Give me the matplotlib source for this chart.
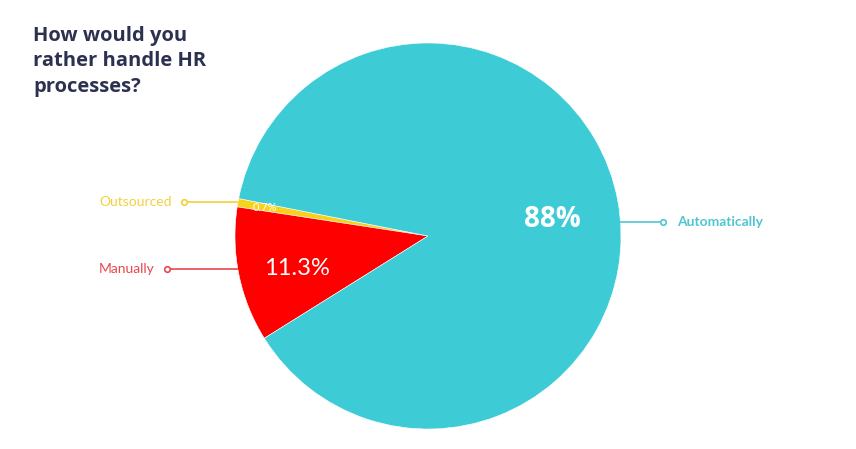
import numpy as np
import matplotlib
matplotlib.use("Agg")
import matplotlib.pyplot as plt

categories = ["Outsourced", "Manually", "Automatically"]
values = [0.7, 11.3, 88.0]
pct_labels = ["0.7%", "11.3%", "88%"]
title = "How would you\nrather handle HR\nprocesses?"

colors = ["#f9d11b", "#ff0000", "#3dcbd5"]
label_colors = ["#f2d13c", "#e8474f", "#4fc6cf"]

plt.rcParams["font.family"] = ["Lato", "DejaVu Sans"]

fig = plt.figure(figsize=(8.56, 4.49), dpi=100)
ax = fig.add_axes([0, 0, 1, 1])

cx, cy, r = 428, 449 - 236, 193
wedges, _ = ax.pie(values, colors=colors, startangle=168.8, counterclock=True,
                   center=(cx, cy), radius=r,
                   wedgeprops=dict(edgecolor="white", linewidth=0.4))
ax.set_xlim(0, 856)
ax.set_ylim(0, 449)
ax.set_aspect("equal")
ax.axis("off")

# percentage labels
pct_dist = [0.86, 0.70, 0.65]
pct_off = [0.0, 2.1, -3.0]
pct_size = [8, 17, 20]
pct_weight = ["normal", "normal", "bold"]
for w, lab, d, off, s, wt in zip(wedges, pct_labels, pct_dist, pct_off, pct_size, pct_weight):
    ang = np.deg2rad((w.theta1 + w.theta2) / 2 + off)
    ax.text(cx + d * r * np.cos(ang), cy + d * r * np.sin(ang), lab,
            color="white", fontsize=s, fontweight=wt, ha="center", va="center",
            family=["Open Sans", "DejaVu Sans"] if wt == "bold" else None)

# connector lines and labels
conn_y = [449 - 202, 449 - 269, 449 - 222]
for i, (w, name, yv) in enumerate(zip(wedges, categories, conn_y)):
    dy = yv - cy
    ex = np.sqrt(r**2 - dy**2)
    if i < 2:
        x0 = cx - ex
        x1 = 184 if i == 0 else 167
        tx = x1 - 12
        ha = "right"
    else:
        x0 = cx + ex
        x1 = 663
        tx = x1 + 14
        ha = "left"
    ax.plot([x0, x1], [yv, yv], color=label_colors[i], lw=1.2, solid_capstyle="butt")
    ax.plot([x1], [yv], marker="o", markersize=4, markerfacecolor="white",
            markeredgecolor=label_colors[i], markeredgewidth=1.2)
    ax.text(tx, yv, name, color=label_colors[i], fontsize=10,
            fontweight="bold" if i == 2 else "normal", ha=ha, va="center")

fig.text(33 / 856, 1 - 26 / 449, title, color="#2c3150", fontsize=14.5,
         fontweight="bold", ha="left", va="top", linespacing=1.36,
         family=["Open Sans", "DejaVu Sans"])

fig.savefig("out.png", dpi=100, facecolor="white")
